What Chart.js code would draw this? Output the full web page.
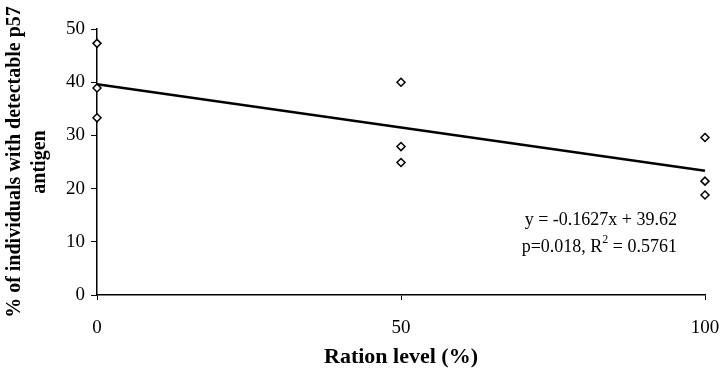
<!DOCTYPE html>
<html>
<head>
<meta charset="utf-8">
<script src="https://cdn.jsdelivr.net/npm/chart.js@4.4.1/dist/chart.umd.min.js"></script>
<style>
  html, body { margin: 0; padding: 0; background: #fff; }
  #chart { display: block; }
</style>
</head>
<body>
<canvas id="chart" width="722" height="373"></canvas>
<script>
// ration level (%) and % with detectable p57 antigen
const rationLevels = [0, 0, 0, 50, 50, 50, 100, 100, 100];
const percentP57 = [47.3, 38.9, 33.3, 40.0, 27.9, 24.9, 29.6, 21.4, 18.8];

// fitted line end points (y = -0.1627x + 39.62)
const trendX = [0, 100];
const trendY = [39.62, 23.35];

const xTicks = [0, 50, 100];
const yTicks = [0, 10, 20, 30, 40, 50];

const eqLines = ["y = -0.1627x + 39.62", "p=0.018, R", "2", " = 0.5761"];

const serif = "'Liberation Serif', 'Times New Roman', serif";

const annotation = {
  id: "annotation",
  afterDatasetsDraw(chart) {
    const ctx = chart.ctx;
    const x = chart.scales.x;
    const y = chart.scales.y;
    const right = x.getPixelForValue(100) - 28;
    ctx.save();
    ctx.fillStyle = "#000";
    ctx.textBaseline = "middle";
    ctx.font = "18px " + serif;
    ctx.textAlign = "right";
    ctx.fillText(eqLines[0], right, y.getPixelForValue(14.1));

    // second line with superscript 2
    const y2 = y.getPixelForValue(9);
    const w1 = ctx.measureText(eqLines[1]).width;
    const w3 = ctx.measureText(eqLines[3]).width;
    ctx.font = "12px " + serif;
    const w2 = ctx.measureText(eqLines[2]).width;
    const start = right - w1 - w2 - w3;
    ctx.textAlign = "left";
    ctx.font = "18px " + serif;
    ctx.fillText(eqLines[1], start, y2);
    ctx.font = "12px " + serif;
    ctx.fillText(eqLines[2], start + w1, y2 - 7);
    ctx.font = "18px " + serif;
    ctx.fillText(eqLines[3], start + w1 + w2, y2);
    ctx.restore();
  }
};

new Chart(document.getElementById("chart"), {
  type: "scatter",
  data: {
    datasets: [
      {
        data: rationLevels.map((v, i) => ({ x: v, y: percentP57[i] })),
        pointStyle: "rectRot",
        pointRadius: 4,
        backgroundColor: "#fff",
        borderColor: "#000",
        borderWidth: 1.5,
        showLine: false,
        clip: false
      },
      {
        data: trendX.map((v, i) => ({ x: v, y: trendY[i] })),
        showLine: true,
        pointRadius: 0,
        borderColor: "#000",
        borderWidth: 2.5,
        clip: false
      }
    ]
  },
  plugins: [annotation],
  options: {
    responsive: false,
    animation: false,
    layout: { autoPadding: false, padding: { top: 29, right: 17, left: 0, bottom: 0 } },
    plugins: {
      legend: { display: false },
      tooltip: { enabled: false }
    },
    scales: {
      x: {
        type: "linear",
        min: 0,
        max: 100,
        afterBuildTicks: (axis) => { axis.ticks = xTicks.map(v => ({ value: v })); },
        afterFit: (axis) => {
          axis.height = 78;
          axis.paddingLeft = 0;
          axis.paddingRight = 0;
        },
        border: { display: true, color: "#000", width: 1.5 },
        grid: { drawOnChartArea: false, drawTicks: true, tickLength: 5, color: "#000", lineWidth: 1 },
        ticks: { color: "#000", font: { family: serif, size: 19 }, padding: 17, maxRotation: 0 },
        title: {
          display: true,
          text: "Ration level (%)",
          color: "#000",
          font: { family: serif, size: 22, weight: "bold" },
          padding: { top: 0, bottom: 2 }
        }
      },
      y: {
        min: 0,
        max: 50,
        afterBuildTicks: (axis) => { axis.ticks = yTicks.map(v => ({ value: v })); },
        afterFit: (axis) => { axis.width = 97; },
        border: { display: true, color: "#000", width: 1.5 },
        grid: { drawOnChartArea: false, drawTicks: true, tickLength: 6, color: "#000", lineWidth: 1 },
        ticks: { color: "#000", font: { family: serif, size: 19 }, padding: 6 },
        title: {
          display: true,
          text: ["% of individuals with detectable p57", "antigen"],
          color: "#000",
          font: { family: serif, size: 20, weight: "bold", lineHeight: 1.25 },
          padding: { top: 2.5, bottom: 0 }
        }
      }
    }
  }
});
</script>
</body>
</html>
